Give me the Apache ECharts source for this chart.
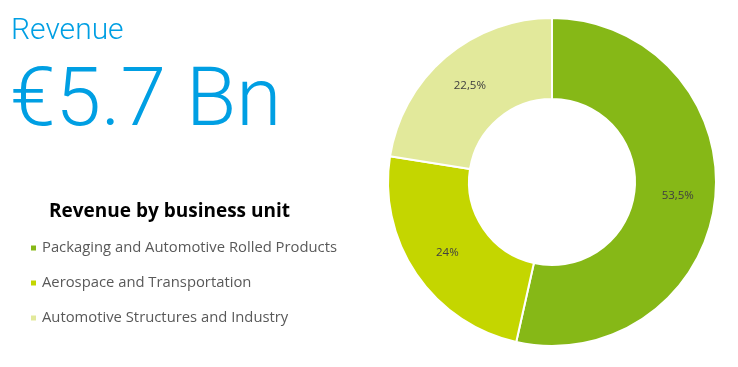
<!DOCTYPE html>
<html><head><meta charset="utf-8">
<script src="https://cdn.jsdelivr.net/npm/echarts@6/dist/echarts.min.js"></script>
<style>html,body{margin:0;padding:0;background:#fff}#c{width:738px;height:367px}</style>
</head><body><div id="c"></div>
<script>
const categories = ['Packaging and Automotive Rolled Products', 'Aerospace and Transportation', 'Automotive Structures and Industry'];
const shares = [53.5, 24, 22.5];
const shareLabels = ['53,5%', '24%', '22,5%'];
const colors = ['#86B817', '#C4D600', '#E2E99B'];

const chart = echarts.init(document.getElementById('c'));
chart.setOption({
  animation: false,
  title: [
    { text: 'Revenue', left: 6, top: 11, textStyle: { fontFamily: 'Roboto', fontWeight: 300, fontSize: 30, color: '#009FE3' } },
    { text: '€5.7 Bn', left: 5, top: 58, textStyle: { fontFamily: 'Roboto', fontWeight: 300, fontSize: 82, color: '#009FE3' } },
    { text: 'Revenue by business unit', left: 44, top: 197, textStyle: { fontFamily: 'Open Sans', fontWeight: 'bold', fontSize: 19, color: '#000' } }
  ],
  legend: {
    orient: 'vertical', left: 24, top: 235, itemWidth: 7, itemHeight: 7, itemGap: 19,
    icon: 'rect',
    textStyle: { fontFamily: 'Open Sans', fontSize: 14.8, lineHeight: 16, color: '#595959' },
    data: categories
  },
  series: [{
    type: 'pie',
    center: [552, 182],
    radius: [83, 164],
    startAngle: 90,
    clockwise: true,
    itemStyle: { borderColor: '#fff', borderWidth: 2 },
    label: {
      position: 'inside', fontFamily: 'Open Sans', fontSize: 11.5, color: '#404040',
      formatter: p => shareLabels[p.dataIndex]
    },
    labelLine: { show: false },
    data: categories.map((n, i) => ({ name: n, value: shares[i], itemStyle: { color: colors[i] } }))
  }]
});
</script></body></html>
